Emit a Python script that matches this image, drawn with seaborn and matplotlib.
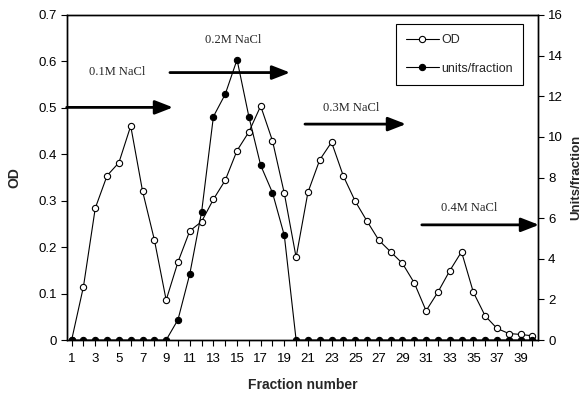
import numpy as np
import pandas as pd
import matplotlib
matplotlib.use("Agg")
import matplotlib.pyplot as plt
import seaborn as sns

fraction = list(range(1, 41))
od = [0.0, 0.115, 0.284, 0.354, 0.382, 0.461, 0.321, 0.216, 0.086, 0.168,
      0.235, 0.255, 0.303, 0.344, 0.408, 0.448, 0.504, 0.429, 0.316, 0.178,
      0.318, 0.388, 0.426, 0.353, 0.299, 0.256, 0.215, 0.190, 0.165, 0.123,
      0.063, 0.103, 0.149, 0.190, 0.103, 0.052, 0.025, 0.014, 0.012, 0.009]
units = [0, 0, 0, 0, 0, 0, 0, 0, 0, 1.0,
         3.25, 6.3, 11.0, 12.1, 13.8, 11.0, 8.6, 7.25, 5.15, 0,
         0, 0, 0, 0, 0, 0, 0, 0, 0, 0,
         0, 0, 0, 0, 0, 0, 0, 0, 0, 0]

# salt steps: label, arrow start/end (fraction), arrow height (OD), label position
steps = ["0.1M NaCl", "0.2M NaCl", "0.3M NaCl", "0.4M NaCl"]
step_start = [0.58, 9.32, 20.75, 30.64]
step_end = [9.58, 19.49, 29.3, 40.56]
step_y = [0.501, 0.576, 0.465, 0.248]
label_x = [4.84, 14.66, 24.65, 34.65]
label_y = [0.577, 0.646, 0.50, 0.284]

df = pd.DataFrame({"fraction": fraction, "od": od, "units": units})

sns.set_theme(style="ticks")
plt.rcParams["font.family"] = ["Liberation Sans", "DejaVu Sans"]

fig = plt.figure(figsize=(5.88, 4.03), dpi=100)
ax = fig.add_axes([0.1134, 0.1563, 0.8021, 0.8065])
ax2 = ax.twinx()

sns.lineplot(data=df, x="fraction", y="od", ax=ax, color="black", linewidth=0.8,
             marker="o", markersize=4.5, markerfacecolor="white",
             markeredgecolor="black", markeredgewidth=0.8, label="OD", legend=False)
sns.lineplot(data=df, x="fraction", y="units", ax=ax2, color="black", linewidth=0.8,
             marker="o", markersize=4.5, markerfacecolor="black",
             markeredgecolor="black", markeredgewidth=0.8, label="units/fraction",
             legend=False)

ax.set_xlim(0.58, 40.5)
ax.set_ylim(0, 0.7)
ax2.set_ylim(0, 16)

ax.set_xticks(fraction)
ax.set_xticklabels([str(f) if f % 2 == 1 else "" for f in fraction])
ax.set_yticks(np.arange(0, 0.71, 0.1))
ax.set_yticklabels(["0"] + [f"{v:.1f}" for v in np.arange(0.1, 0.71, 0.1)])
ax2.set_yticks(range(0, 17, 2))

for a in (ax, ax2):
    a.tick_params(axis="both", direction="out", length=4, width=0.8,
                  colors="black", labelsize=9.5, pad=3)
    for s in a.spines.values():
        s.set_color("black")
        s.set_linewidth(1.0)
        s.set_visible(True)
ax.tick_params(axis="x", pad=5)

ax.set_xlabel("Fraction number", fontsize=10, fontweight="bold", labelpad=10)
ax.set_ylabel("OD", fontsize=10, fontweight="bold", labelpad=12)
ax2.set_ylabel("Units/fraction", fontsize=9.5, fontweight="bold", labelpad=5)

for name, x0, x1, y, lx, ly in zip(steps, step_start, step_end, step_y, label_x, label_y):
    ax.annotate("", xy=(x1, y), xytext=(x0, y), annotation_clip=False,
                arrowprops=dict(arrowstyle="-|>,head_length=0.9,head_width=0.35",
                                color="black", linewidth=2.0, shrinkA=0, shrinkB=0))
    ax.text(lx, ly, name, ha="center", va="center", fontsize=9,
            family=["Liberation Serif", "DejaVu Serif"])

h1, l1 = ax.get_legend_handles_labels()
h2, l2 = ax2.get_legend_handles_labels()
leg = ax2.legend(h1 + h2, l1 + l2, loc="upper right", bbox_to_anchor=(0.98, 0.99),
                 fancybox=False, edgecolor="black", framealpha=1, fontsize=9,
                 handlelength=2.6, labelspacing=1.3, borderpad=0.8, handletextpad=0.2)
leg.get_frame().set_linewidth(0.8)

fig.savefig("out.png", dpi=100)
